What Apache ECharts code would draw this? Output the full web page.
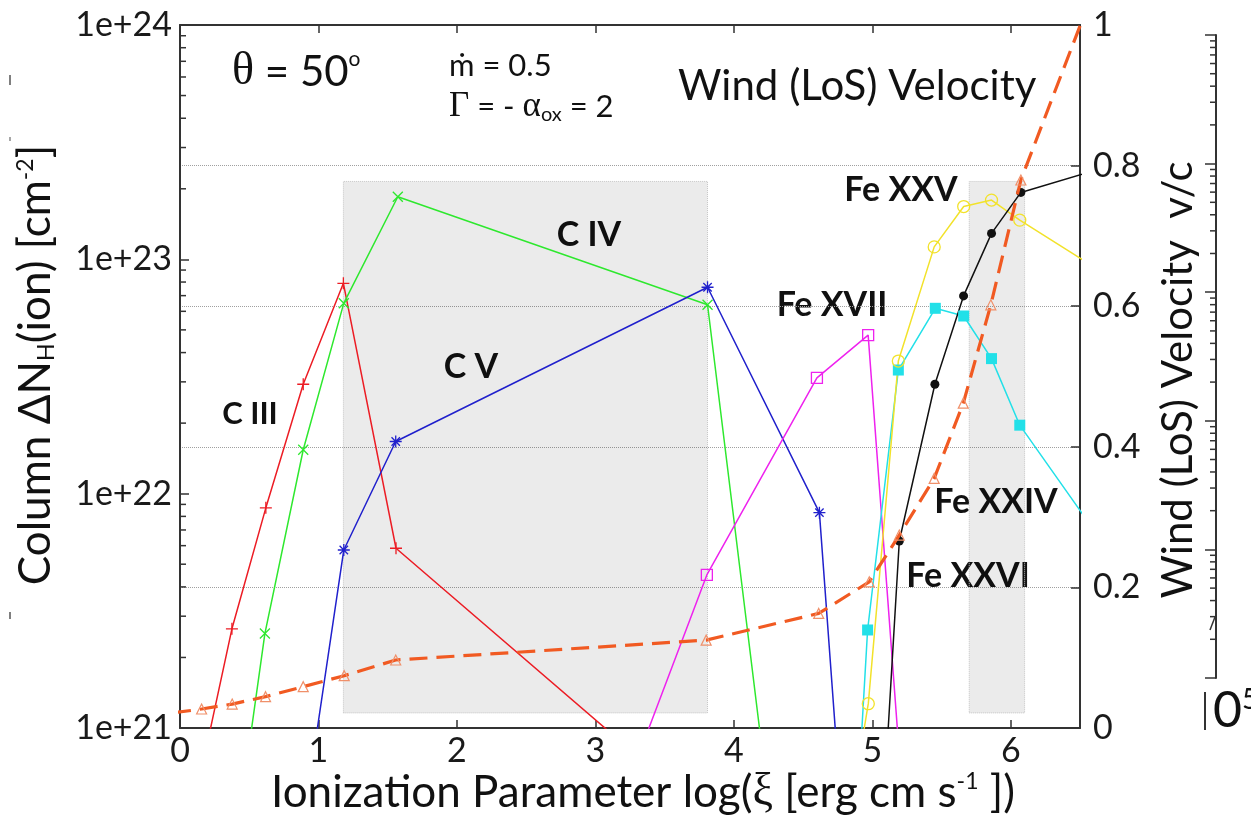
<!DOCTYPE html>
<html>
<head>
<meta charset="utf-8">
<script src="https://cdn.jsdelivr.net/npm/echarts@6/dist/echarts.min.js"></script>
<style>
  html, body { margin: 0; padding: 0; background: #fff; }
  #chart { width: 1251px; height: 819px; }
</style>
</head>
<body>
<div id="chart"></div>
<script>
// Ion column densities vs. ionization parameter, with the wind LoS velocity on a second axis.
const FONT = 'Lato';
const SERIF = 'Liberation Serif';

// log(xi) sample points and column densities [cm^-2] for each ion
const xiC3 = [0.16, 0.375, 0.62, 0.89, 1.18, 1.56, 3.81];
const nhC3 = [6.8e20, 2.65e21, 8.7e21, 2.93e22, 7.9e22, 5.85e21, 4.2e20];

const xiC4 = [0.375, 0.613, 0.89, 1.183, 1.573, 3.81, 4.6];
const nhC4 = [2.5e20, 2.53e21, 1.54e22, 6.5e22, 1.85e23, 6.4e22, 1.0e19];

const xiC5 = [0.89, 1.183, 1.558, 3.81, 4.618, 4.98];
const nhC5 = [3.9e20, 5.75e21, 1.67e22, 7.6e22, 8.3e21, 1.0e19];

const xiFe17 = [1.56, 3.805, 4.60, 4.97, 5.2];
const nhFe17 = [1.4e18, 4.5e21, 3.12e22, 4.75e22, 7.0e20];

const xiFe24 = [4.6, 4.966, 5.188, 5.455, 5.66, 5.861, 6.065, 6.6];
const nhFe24 = [4.8e17, 2.62e21, 3.37e22, 6.18e22, 5.73e22, 3.77e22, 1.96e22, 7.0e21];

const xiFe25 = [4.6, 4.971, 5.188, 5.447, 5.66, 5.861, 6.065, 6.6];
const nhFe25 = [5.9e19, 1.27e21, 3.68e22, 1.13e23, 1.68e23, 1.79e23, 1.47e23, 9.3e22];

const xiFe26 = [4.98, 5.195, 5.452, 5.659, 5.861, 6.073, 6.6];
const nhFe26 = [4.5e19, 6.28e21, 2.93e22, 6.98e22, 1.29e23, 1.93e23, 2.39e23];

// wind line-of-sight velocity v/c
const xiWind = [-0.05, 0.156, 0.377, 0.618, 0.89, 1.186, 1.558, 3.8, 4.613, 4.978, 5.195, 5.447, 5.657, 5.856, 6.073, 6.6];
const vWind  = [0.0215, 0.027, 0.034, 0.0446, 0.0588, 0.0744, 0.0967, 0.125, 0.163, 0.208, 0.2745, 0.355, 0.462, 0.602, 0.7795, 1.05];

// shaded log(xi) bands and their vertical extent
const shadeBands = [[1.18, 3.81], [5.70, 6.10]];
const shadeNH = [1.16e21, 2.15e23];

const pairs = (xs, ys) => xs.map((x, i) => [x, ys[i]]);

// log-axis minor tick values (2..9 per decade)
function minorLogValues(lo, hi) {
  const out = [];
  for (let e = lo; e < hi; e++) for (let m = 2; m <= 9; m++) out.push(m * Math.pow(10, e));
  return out;
}
const minorNH = minorLogValues(21, 24);
const minorSide = minorLogValues(0, 5);

const SYM_PLUS = 'path://M5,0L5,10M0,5L10,5';
const SYM_CROSS = 'path://M0,0L10,10M0,10L10,0';
const SYM_STAR = 'path://M5,0L5,10M0,5L10,5M1.5,1.5L8.5,8.5M1.5,8.5L8.5,1.5';

function ionSeries(name, xs, ys, color, symbol, size, filled) {
  return {
    name, type: 'line', xAxisIndex: 0, yAxisIndex: 0,
    data: pairs(xs, ys), symbol, symbolSize: size, showAllSymbol: true, clip: true,
    lineStyle: { color, width: 1.5 },
    itemStyle: filled
      ? { color, borderWidth: 0 }
      : { color: 'rgba(0,0,0,0)', borderColor: color, borderWidth: 1.3 },
    emphasis: { disabled: true }, z: 3
  };
}

const axisLine = { show: true, onZero: false, lineStyle: { color: '#333', width: 2 } };
const tickStyle = { color: '#333', width: 1.5 };

function label(text, x, y, size) {
  return { type: 'text', x, y, silent: true,
    style: { text, fontFamily: FONT, fontWeight: 'bold', fontSize: size, fill: '#111', align: 'center', verticalAlign: 'middle' } };
}

const baseGraphic = [
  // panel annotations
  {
    type: 'text', x: 232, y: 72, silent: true,
    style: {
      text: '{g|θ} = 50{s|o}', fontFamily: FONT, fontSize: 42, fill: '#111', verticalAlign: 'middle',
      rich: {
        g: { fontFamily: SERIF, fontSize: 46, fill: '#111' },
        s: { fontFamily: FONT, fontSize: 21, fill: '#111', verticalAlign: 'top' }
      }
    }
  },
  {
    type: 'text', x: 449, y: 66, silent: true,
    style: { text: 'ṁ = 0.5', fontFamily: FONT, fontSize: 31, fill: '#111', verticalAlign: 'middle' }
  },
  {
    type: 'text', x: 449, y: 107, silent: true,
    style: {
      text: '{g|Γ} = - {g|α}{b|ox} = 2', fontFamily: FONT, fontSize: 31, fill: '#111', verticalAlign: 'middle',
      rich: {
        g: { fontFamily: SERIF, fontSize: 35, fill: '#111' },
        b: { fontFamily: FONT, fontSize: 20, fill: '#111', verticalAlign: 'bottom' }
      }
    }
  },
  {
    type: 'text', x: 678, y: 86, silent: true,
    style: { text: 'Wind (LoS) Velocity', fontFamily: FONT, fontSize: 42, fill: '#111', verticalAlign: 'middle' }
  },
  // ion labels
  label('C III', 250, 414, 31),
  label('C IV', 589, 235, 34),
  label('C V', 471, 367, 34),
  label('Fe XVII', 832, 305, 34),
  label('Fe XXV', 901, 190, 34),
  label('Fe XXIV', 996, 502, 34),
  label('Fe XXVI', 968, 576, 34),
  // axis titles
  {
    type: 'text', x: 643, y: 793, silent: true,
    style: {
      text: 'Ionization Parameter log({g|ξ} [erg cm s{s|-1} ])', fontFamily: FONT, fontSize: 44, fill: '#111',
      align: 'center', verticalAlign: 'middle',
      rich: {
        g: { fontFamily: SERIF, fontSize: 46, fill: '#111' },
        s: { fontFamily: FONT, fontSize: 23, fill: '#111', verticalAlign: 'top' }
      }
    }
  },
  {
    type: 'text', x: 36, y: 365, rotation: Math.PI / 2, silent: true,
    style: {
      text: 'Column ΔN{b|H}(ion) [cm{s|-2}]', fontFamily: FONT, fontSize: 44, fill: '#111',
      align: 'center', verticalAlign: 'middle',
      rich: {
        b: { fontFamily: FONT, fontSize: 23, fill: '#111', verticalAlign: 'bottom' },
        s: { fontFamily: FONT, fontSize: 23, fill: '#111', verticalAlign: 'top' }
      }
    }
  },
  {
    type: 'text', x: 1178, y: 380, rotation: Math.PI / 2, silent: true,
    style: { text: 'Wind (LoS) Velocity  v/c', fontFamily: FONT, fontSize: 42, fill: '#111', align: 'center', verticalAlign: 'middle' }
  },
  // neighbouring panel edge
  { type: 'line', silent: true, shape: { x1: 1210, y1: 630, x2: 1215, y2: 617 }, style: { stroke: '#333', lineWidth: 1.5 } },
  { type: 'line', silent: true, shape: { x1: 1205, y1: 692, x2: 1205, y2: 730 }, style: { stroke: '#333', lineWidth: 2 } },
  {
    type: 'text', x: 1213, y: 711, silent: true,
    style: {
      text: '0{s|5}', fontFamily: FONT, fontSize: 50, fill: '#111', verticalAlign: 'middle',
      rich: { s: { fontFamily: FONT, fontSize: 28, fill: '#111', verticalAlign: 'top' } }
    }
  },
  { type: 'line', silent: true, shape: { x1: 10, y1: 75, x2: 10, y2: 85 }, style: { stroke: '#555', lineWidth: 1.5 } },
  { type: 'line', silent: true, shape: { x1: 10, y1: 137, x2: 10, y2: 141 }, style: { stroke: '#888', lineWidth: 1.5 } },
  { type: 'line', silent: true, shape: { x1: 10, y1: 612, x2: 10, y2: 619 }, style: { stroke: '#555', lineWidth: 1.5 } }
];

const chart = echarts.init(document.getElementById('chart'), null, { renderer: 'canvas' });

chart.setOption({
  animation: false,
  backgroundColor: '#fff',
  grid: [
    { left: 180, right: 171, top: 25, bottom: 91, containLabel: false },
    { left: 1150, top: 35, width: 66, height: 643, containLabel: false }
  ],
  xAxis: [
    {
      type: 'value', gridIndex: 0, position: 'bottom', min: 0, max: 6.5, interval: 1,
      axisLine, axisTick: { inside: true, length: 8, lineStyle: tickStyle },
      axisLabel: { fontFamily: FONT, fontSize: 34, color: '#1a1a1a', margin: 6, showMaxLabel: false },
      splitLine: { show: false }
    },
    {
      type: 'value', gridIndex: 0, position: 'top', min: 0, max: 6.5, interval: 1,
      axisLine, axisTick: { inside: true, length: 8, lineStyle: tickStyle },
      axisLabel: { show: false }, splitLine: { show: false }
    },
    { type: 'value', gridIndex: 1, min: 0, max: 1, show: false }
  ],
  yAxis: [
    {
      type: 'log', logBase: 10, gridIndex: 0, position: 'left', min: 1e21, max: 1e24,
      axisLine, axisTick: { inside: true, length: 9, lineStyle: tickStyle },
      axisLabel: {
        fontFamily: FONT, fontSize: 34, color: '#1a1a1a', margin: 8,
        formatter: v => '1e+' + Math.round(Math.log10(v))
      },
      splitLine: { show: false }
    },
    {
      type: 'value', gridIndex: 0, position: 'right', min: 0, max: 1, interval: 0.2,
      axisLine, axisTick: { inside: true, length: 9, lineStyle: tickStyle },
      axisLabel: { fontFamily: FONT, fontSize: 34, color: '#1a1a1a', margin: 13 },
      splitLine: { show: true, lineStyle: { type: 'dotted', color: '#a0a0a0', width: 1 } }
    },
    {
      type: 'log', logBase: 10, gridIndex: 1, position: 'right', min: 1, max: 1e5,
      axisLine, axisTick: { inside: true, length: 11, lineStyle: tickStyle },
      axisLabel: { show: false }, splitLine: { show: false }
    }
  ],
  series: [
    {
      name: 'bands', type: 'line', xAxisIndex: 0, yAxisIndex: 0, data: [], z: 1,
      markArea: {
        silent: true,
        itemStyle: { color: 'rgba(0,0,0,0.08)', borderColor: '#c4c4c4', borderWidth: 1, borderType: 'dotted' },
        data: shadeBands.map(b => [{ coord: [b[0], shadeNH[0]] }, { coord: [b[1], shadeNH[1]] }])
      }
    },
    ionSeries('C III', xiC3, nhC3, '#ec1c24', SYM_PLUS, 12, false),
    ionSeries('C IV', xiC4, nhC4, '#2ee82e', SYM_CROSS, 10, false),
    ionSeries('C V', xiC5, nhC5, '#2020cc', SYM_STAR, 12, false),
    ionSeries('Fe XVII', xiFe17, nhFe17, '#ee22ee', 'rect', 11, false),
    ionSeries('Fe XXIV', xiFe24, nhFe24, '#22e0e8', 'rect', 11, true),
    ionSeries('Fe XXV', xiFe25, nhFe25, '#f2e22a', 'circle', 12, false),
    ionSeries('Fe XXVI', xiFe26, nhFe26, '#111111', 'circle', 9, true),
    {
      name: 'Wind velocity', type: 'line', xAxisIndex: 0, yAxisIndex: 1,
      data: pairs(xiWind, vWind), symbol: 'triangle', symbolSize: 10, showAllSymbol: true, clip: true,
      lineStyle: { color: '#f15a22', width: 3.2, type: [18, 9] },
      itemStyle: { color: 'rgba(0,0,0,0)', borderColor: '#f0906a', borderWidth: 1.2 },
      emphasis: { disabled: true }, z: 4
    }
  ],
  graphic: baseGraphic
});

// log minor ticks, placed through the axes' own scales
const tickEls = [];
const xLeft = chart.convertToPixel({ xAxisIndex: 0 }, 0);
minorNH.forEach(v => {
  const y = chart.convertToPixel({ yAxisIndex: 0 }, v);
  tickEls.push({ type: 'line', silent: true, z: 100, shape: { x1: xLeft, y1: y, x2: xLeft + 6, y2: y }, style: { stroke: '#333', lineWidth: 1.5 } });
});
const xSide = chart.convertToPixel({ xAxisIndex: 2 }, 1);
minorSide.forEach(v => {
  const y = chart.convertToPixel({ yAxisIndex: 2 }, v);
  tickEls.push({ type: 'line', silent: true, z: 100, shape: { x1: xSide - 6, y1: y, x2: xSide, y2: y }, style: { stroke: '#333', lineWidth: 1.5 } });
});
chart.setOption({ graphic: baseGraphic.concat(tickEls) });
</script>
</body>
</html>
